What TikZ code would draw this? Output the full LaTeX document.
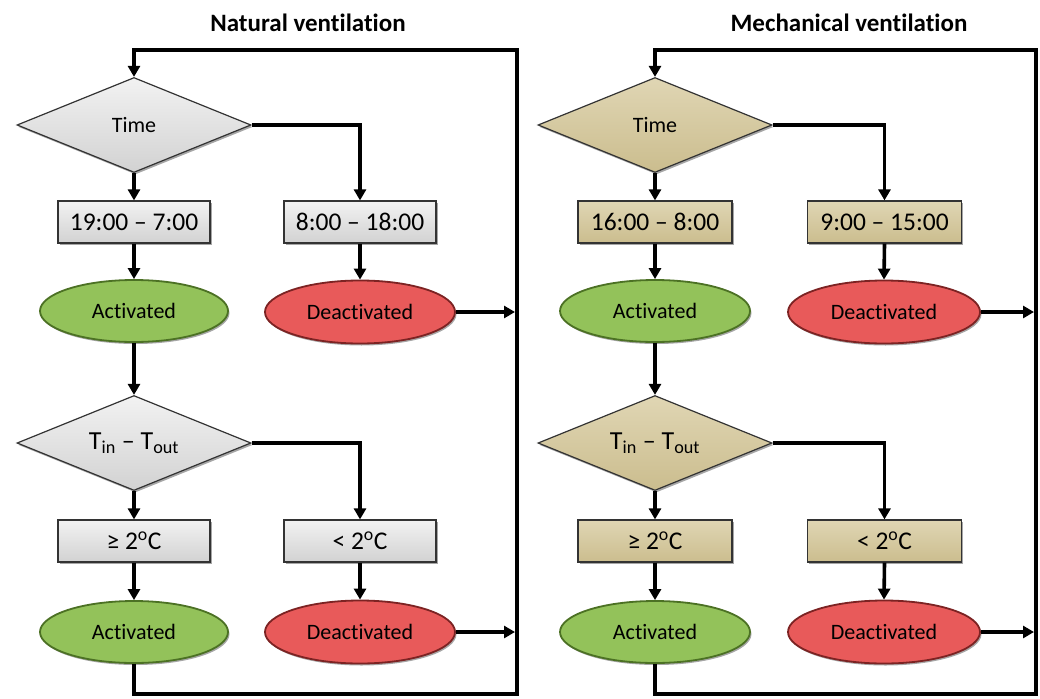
\documentclass[tikz,border=0pt]{standalone}
\usepackage{fontspec}
\setmainfont{Carlito}[RawFeature=-liga]
\usetikzlibrary{shapes.geometric,arrows.meta,shadows}
\definecolor{graytop}{HTML}{F2F2F2}
\definecolor{graybot}{HTML}{D2D2D2}
\definecolor{tantop}{HTML}{E0D6B4}
\definecolor{tanbot}{HTML}{CBBD8E}
\definecolor{grnfill}{HTML}{93C25A}
\definecolor{grnedge}{HTML}{4C7124}
\definecolor{redfill}{HTML}{E85A5A}
\definecolor{rededge}{HTML}{7C2323}
\definecolor{boxedge}{HTML}{333333}
\tikzset{
  x=1pt, y=-1pt,
  conn/.style={line width=3.6pt, black, line join=miter},
  arr/.style={conn, -{Triangle[length=11pt,width=12pt]}},
  shade1/.style={drop shadow={shadow xshift=1.5pt, shadow yshift=-2pt, opacity=0.35, fill=black}},
  graybox/.style={rectangle, draw=boxedge, line width=1.2pt, top color=graytop, bottom color=graybot,
    minimum width=152pt, minimum height=42pt, inner sep=0pt, font=\fontsize{25.5}{28}\selectfont, shade1},
  tanbox/.style={graybox, top color=tantop, bottom color=tanbot, minimum width=154pt},
  graydia/.style={diamond, draw=boxedge, line width=1.2pt, top color=graytop, bottom color=graybot,
    aspect=2.45, minimum width=234pt, minimum height=95pt, inner sep=0pt, font=\fontsize{22}{26}\selectfont, shade1},
  tandia/.style={graydia, top color=tantop, bottom color=tanbot},
  bigtxt/.style={font=\fontsize{26}{30}\selectfont},
  grn/.style={ellipse, draw=grnedge, line width=1.8pt, fill=grnfill, minimum width=188pt, minimum height=62pt,
    inner sep=0pt, font=\fontsize{22}{26}\selectfont, shade1},
  red/.style={ellipse, draw=rededge, line width=1.8pt, fill=redfill, minimum width=190pt, minimum height=63pt,
    inner sep=0pt, font=\fontsize{22}{26}\selectfont, shade1},
  ttl/.style={font=\bfseries\fontsize{25}{28}\selectfont, inner sep=0pt},
}
\begin{document}
\begin{tikzpicture}
\useasboundingbox (0,0) rectangle (1040,698);
\fill[white] (0,0) rectangle (1040,698);
% ---------- Natural ventilation ----------
\node[ttl] (title1) at (308,23) {Natural ventilation};
\coordinate (ltl) at (134,50);
\coordinate (ltr) at (517,50);
\coordinate (lbr) at (517,694);
\coordinate (lbl) at (134,694);
\node[graydia] (lt1) at (134,125) {Time};
\node[graybox] (lb1) at (134,222) {19:00 – 7:00};
\node[graybox] (lb2) at (360,222) {8:00 – 18:00};
\node[grn] (la1) at (134,311) {Activated};
\node[red] (ld1) at (360,312) {Deactivated};
\node[graydia, bigtxt] (lt2) at (134,443) {T\textsubscript{in} – T\textsubscript{out}};
\node[graybox] (lb3) at (134,541) {≥ 2\textsuperscript{o}C};
\node[graybox] (lb4) at (360,541) {< 2\textsuperscript{o}C};
\node[grn] (la2) at (134,632) {Activated};
\node[red] (ld2) at (360,632) {Deactivated};
\draw[arr] (lt1.south) -- (lb1.north);
\draw[arr] (lt1.east) -| (lb2.north);
\draw[arr] (lb1.south) -- (la1.north);
\draw[arr] (lb2.south) -- (ld1.north);
\draw[arr] (la1.south) -- (lt2.north);
\draw[arr] (lt2.south) -- (lb3.north);
\draw[arr] (lt2.east) -| (lb4.north);
\draw[arr] (lb3.south) -- (la2.north);
\draw[arr] (lb4.south) -- (ld2.north);
\draw[arr] (ld1.east) -- (ld1.east -| 515,0);
\draw[arr] (ld2.east) -- (ld2.east -| 515,0);
\draw[arr] (la2.south) -- (lbl) -- (lbr) -- (ltr) -- (ltl) -- (lt1.north);
% ---------- Mechanical ventilation ----------
\node[ttl] (title2) at (849,23) {Mechanical ventilation};
\coordinate (rtl) at (655,50);
\coordinate (rtr) at (1036,50);
\coordinate (rbr) at (1036,694);
\coordinate (rbl) at (655,694);
\node[tandia] (rt1) at (655,125) {Time};
\node[tanbox] (rb1) at (655,222) {16:00 – 8:00};
\node[tanbox] (rb2) at (884.5,222) {9:00 – 15:00};
\node[grn, minimum width=190pt] (ra1) at (655,311) {Activated};
\node[red, minimum width=192pt] (rd1) at (884,312) {Deactivated};
\node[tandia, bigtxt] (rt2) at (655,443) {T\textsubscript{in} – T\textsubscript{out}};
\node[tanbox] (rb3) at (655,541) {≥ 2\textsuperscript{o}C};
\node[tanbox] (rb4) at (884.5,541) {< 2\textsuperscript{o}C};
\node[grn, minimum width=190pt] (ra2) at (655,632) {Activated};
\node[red, minimum width=192pt] (rd2) at (884,632) {Deactivated};
\draw[arr] (rt1.south) -- (rb1.north);
\draw[arr] (rt1.east) -| (rb2.north);
\draw[arr] (rb1.south) -- (ra1.north);
\draw[arr] (rb2.south) -- (rd1.north);
\draw[arr] (ra1.south) -- (rt2.north);
\draw[arr] (rt2.south) -- (rb3.north);
\draw[arr] (rt2.east) -| (rb4.north);
\draw[arr] (rb3.south) -- (ra2.north);
\draw[arr] (rb4.south) -- (rd2.north);
\draw[arr] (rd1.east) -- (rd1.east -| 1034,0);
\draw[arr] (rd2.east) -- (rd2.east -| 1034,0);
\draw[arr] (ra2.south) -- (rbl) -- (rbr) -- (rtr) -- (rtl) -- (rt1.north);
\end{tikzpicture}
\end{document}
